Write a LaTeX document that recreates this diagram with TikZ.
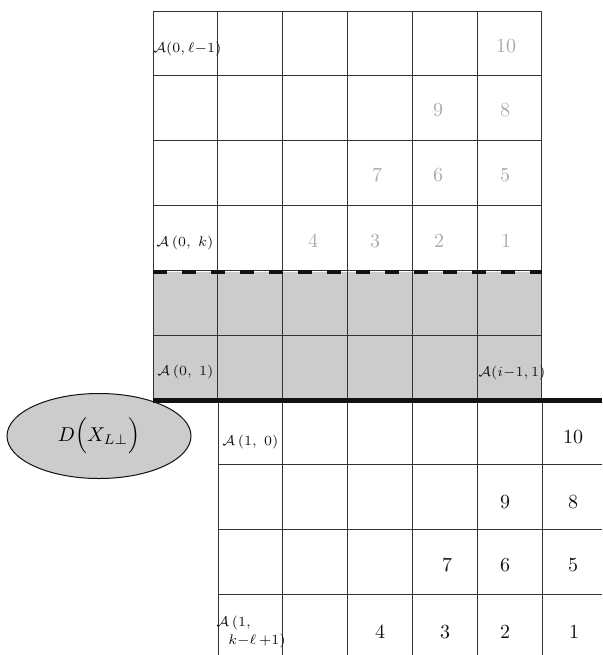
\documentclass[tikz,border=0pt]{standalone}
\usepackage{amsmath, amssymb}
\usepackage{xcolor}
\usepackage{tikz}
\usetikzlibrary{shapes.geometric}
\definecolor{inkOne}{HTML}{111111}
\definecolor{inkTwo}{HTML}{333333}
\definecolor{cellgray}{HTML}{CCCCCC}
\definecolor{faded}{HTML}{AAAAAA}
\tikzset{
  gridline/.style={draw=inkTwo, line width=0.5pt},
  frontier/.style={draw=inkOne, line width=1.6pt, dash pattern=on 7pt off 7.5pt},
  sepline/.style={draw=inkOne, line width=2.5pt},
  lbl/.style={font=\scriptsize, text=inkOne, inner sep=0pt, anchor=west},
  oldnum/.style={text=faded, inner sep=0pt},
  newnum/.style={text=inkOne, inner sep=0pt},
  distnode/.style={ellipse, draw=inkOne, line width=0.5pt, fill=cellgray, inner sep=0pt,
    minimum width=92pt, minimum height=42.5pt},
}
\begin{document}
\begin{tikzpicture}[x=0.5pt, y=-0.5pt]
  \useasboundingbox (0,0) rectangle (602,655);

  % shaded rows and the distribution
  \fill[cellgray] (153,272) rectangle (542,400);
  \node[distnode] (dist) at (99,436) {$D\Big(X_{L\perp}\Big)$};

  % upper grid
  \foreach \i in {0,...,6} {
    \draw[gridline] (153+64.8*\i,11) -- (153+64.8*\i,400);
    \draw[gridline] (153,11+64.9*\i) -- (542,11+64.9*\i);
  }

  % lower grid
  \foreach \i in {0,...,5}
    \draw[gridline] (218+64.8*\i,400) -- (218+64.8*\i,655);
  \foreach \j in {1,2,3}
    \draw[gridline] (218,400+64.7*\j) -- (602,400+64.7*\j);

  % separators
  \draw[frontier] (153,272) -- (542,272);
  \draw[sepline] (153,400) -- (602,400);

  % cell labels
  \node[lbl] (aTop) at (153,49) {$\mathcal{A}(0,\ell{-}1)$};
  \node[lbl] (aZeroK) at (156,243) {$\mathcal{A}\,(0,\;k)$};
  \node[lbl] (aZeroOne) at (157,372) {$\mathcal{A}\,(0,\;1)$};
  \node[lbl] (aLast) at (478,373) {$\mathcal{A}(i{-}1,1)$};
  \node[lbl] (aOneZero) at (222,442) {$\mathcal{A}\,(1,\;0)$};
  \node[lbl, align=left] (aOneK) at (216,632)
    {$\mathcal{A}\,(1,$\\[1pt]\hspace*{6pt}$k{-}\ell\,{+}1)$};

  % order of the cells
  \foreach \n/\x/\y in {10/506/46, 9/438/110, 8/505/110, 7/377/175, 6/438/175,
      5/505/175, 4/313/241, 3/375/241, 2/439/241, 1/506/241}
    \node[oldnum] (u\n) at (\x,\y) {\n};
  \foreach \n/\x/\y in {10/573/437, 9/505/502, 8/573/502, 7/447/565, 6/505/565,
      5/573/565, 4/380/632, 3/445/632, 2/505/632, 1/574/632}
    \node[newnum] (l\n) at (\x,\y) {\n};
\end{tikzpicture}
\end{document}
